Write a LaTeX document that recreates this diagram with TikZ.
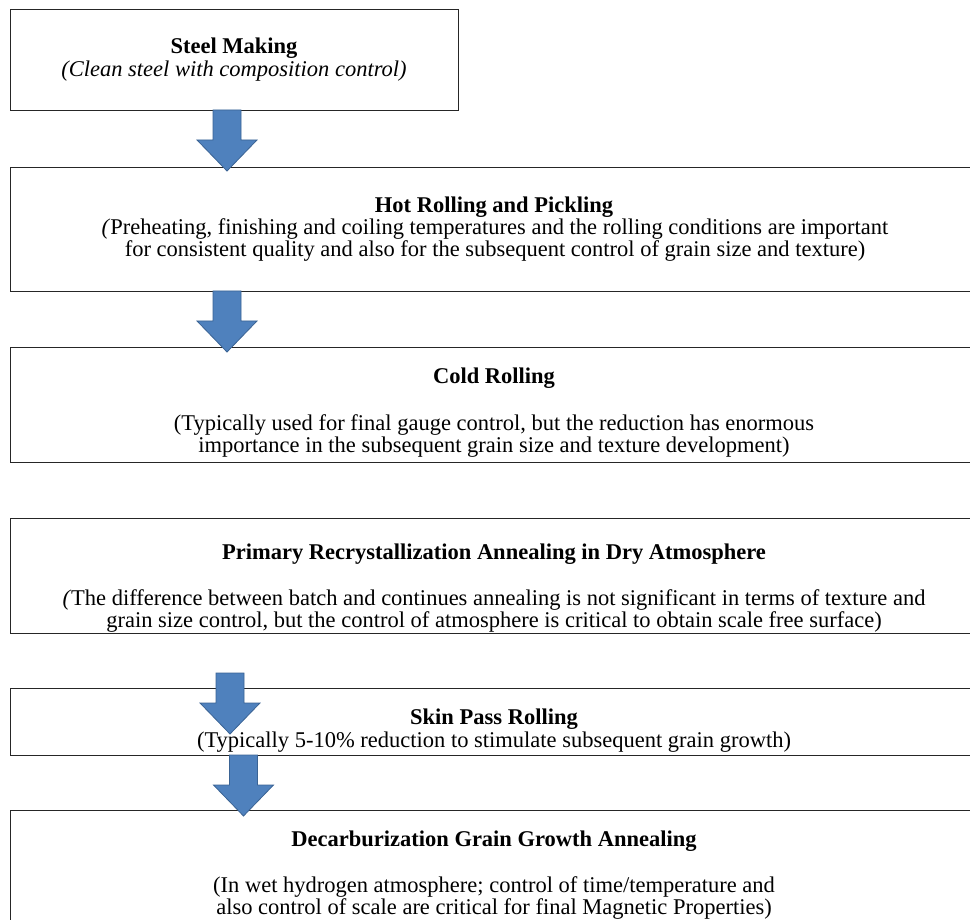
\documentclass[tikz,border=0pt]{standalone}
\usepackage{fontspec}
\setmainfont{Liberation Serif}
\definecolor{arrowfill}{HTML}{4F81BD}
\definecolor{arrowline}{HTML}{3A6394}
\tikzset{
  stagebox/.style={draw=black!85, line width=1.3pt, fill=white, anchor=north west, inner sep=0pt},
  ttl/.style={font=\fontsize{22.5}{22}\selectfont\bfseries, anchor=base, inner sep=0pt},
  txt/.style={font=\fontsize{22.5}{22}\selectfont, anchor=base, inner sep=0pt},
  blockarrow/.pic={
    \filldraw[fill=arrowfill, draw=arrowline, line width=0.8pt, line join=miter]
      (-14,0) -- (14,0) -- (14,30) -- (30,30) -- (0,61) -- (-30,30) -- (-14,30) -- cycle;
  }
}
\begin{document}
\begin{tikzpicture}[x=1pt, y=-1pt]
\useasboundingbox (0,0) rectangle (970,920);
\clip (0,0) rectangle (970,920);
\fill[white] (0,0) rectangle (970,920);

% boxes
\node[stagebox, minimum width=448pt, minimum height=101pt] (b1) at (10,9) {};
\node[stagebox, minimum width=990pt, minimum height=124pt] (b2) at (10,167) {};
\node[stagebox, minimum width=990pt, minimum height=115pt] (b3) at (10,347) {};
\node[stagebox, minimum width=990pt, minimum height=115pt] (b4) at (10,518) {};
\node[stagebox, minimum width=990pt, minimum height=67pt] (b5) at (10,688) {};
\node[stagebox, minimum width=990pt, minimum height=140pt] (b6) at (10,810) {};

% block arrows
\coordinate (a1) at (227,110);
\coordinate (a2) at (227,291);
\coordinate (a3) at (230,673);
\coordinate (a4) at (243.5,755);
\pic at (a1) {blockarrow};
\pic at (a2) {blockarrow};
\pic at (a3) {blockarrow};
\pic at (a4) {blockarrow};

% texts
\node[ttl] (t1a) at (234,53.5) {Steel Making};
\node[txt] (t1b) at (234,76.5) {\itshape (Clean steel with composition control)};

\node[ttl] (t2a) at (494,212.5) {Hot Rolling and Pickling};
\node[txt] (t2b) at (495,234.5) {\textit{(}Preheating, finishing and coiling temperatures and the rolling conditions are important};
\node[txt] (t2c) at (495,256.5) {for consistent quality and also for the subsequent control of grain size and texture)};

\node[ttl] (t3a) at (494,383.5) {Cold Rolling};
\node[txt] (t3b) at (494,430.5) {(Typically used for final gauge control, but the reduction has enormous};
\node[txt] (t3c) at (494,452.5) {importance in the subsequent grain size and texture development)};

\node[ttl] (t4a) at (494,559.5) {Primary Recrystallization Annealing in Dry Atmosphere};
\node[txt] (t4b) at (494,605) {\textit{(}The difference between batch and continues annealing is not significant in terms of texture and};
\node[txt] (t4c) at (494,627) {grain size control, but the control of atmosphere is critical to obtain scale free surface)};

\node[ttl] (t5a) at (494,724.5) {Skin Pass Rolling};
\node[txt] (t5b) at (494,747.5) {(Typically 5-10\% reduction to stimulate subsequent grain growth)};

\node[ttl] (t6a) at (494,846.5) {Decarburization Grain Growth Annealing};
\node[txt] (t6b) at (494,892) {(In wet hydrogen atmosphere; control of time/temperature and};
\node[txt] (t6c) at (494,914) {also control of scale are critical for final Magnetic Properties)};
\end{tikzpicture}
\end{document}
